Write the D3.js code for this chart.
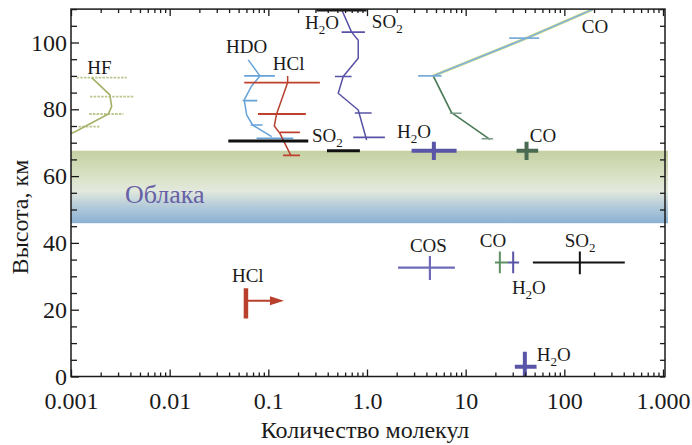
<!DOCTYPE html>
<html><head><meta charset="utf-8">
<script src="https://cdn.jsdelivr.net/npm/d3@7"></script>
<style>body{margin:0;background:#fff} svg{display:block} text{font-family:"Liberation Serif","Times New Roman",serif;fill:#1a1a1a}</style>
</head><body><svg id="c" width="692" height="445"></svg>
<script>
// ---------- data ----------
const xTickValues = [0.001, 0.01, 0.1, 1, 10, 100, 1000];
const xTickLabels = ["0.001", "0.01", "0.1", "1.0", "10", "100", "1.000"];
const yTickValues = [0, 20, 40, 60, 80, 100];
const cloudLayer = [45.9, 67.6];

const hfAlt = [89.5, 84.3, 80.8, 78.6, 73.3, 72.5];
const hfVal = [0.00162, 0.00248, 0.00258, 0.00239, 0.0011, 0.00095];
const hfErrAlt = [89.5, 83.8, 78.6, 74.8];
const hfErrLo = [0.00114, 0.00156, 0.00153, 0.00119];
const hfErrHi = [0.00367, 0.00428, 0.00339, 0.00197];

const hdoAlt = [94.8, 90.0, 87.0, 82.8, 78.3, 75.3, 71.8];
const hdoVal = [0.0625, 0.0822, 0.0677, 0.057, 0.0603, 0.0693, 0.108];
const hdoErrAlt = [90.0, 82.6, 75.3, 71.3];
const hdoErrLo = [0.057, 0.055, 0.0662, 0.076];
const hdoErrHi = [0.1166, 0.0772, 0.0875, 0.179];

const hclAlt = [90, 88, 78.5, 75, 72.8, 66.2];
const hclVal = [0.157, 0.157, 0.121, 0.115, 0.131, 0.169];
const hclErrAlt = [88.0, 78.6, 73.1, 66.2];
const hclErrLo = [0.057, 0.0785, 0.131, 0.141];
const hclErrHi = [0.333, 0.240, 0.209, 0.209];

const so2h2oAlt = [109.9, 103.1, 100.7, 95.3, 89.8, 84.8, 79.8, 70.8];
const so2h2oVal = [0.553, 0.698, 0.815, 0.815, 0.574, 0.511, 0.815, 0.991];
const so2h2oErrAlt = [103.1, 89.8, 78.9, 71.6];
const so2h2oErrLo = [0.553, 0.473, 0.753, 0.725];
const so2h2oErrHi = [0.953, 0.698, 1.114, 1.518];

const coAlt = [109.9, 101.3, 90.0, 79.0, 71.0];
const coVal = [194, 41.4, 4.69, 7.19, 17.6];
const coErrAlt = [101.3, 90.0, 78.8, 71.2];
const coErrLo = [27.6, 3.30, 6.92, 14.5];
const coErrHi = [55.6, 5.70, 9.08, 19.0];

// single measurements
const pointNames = ["SO2top", "SO2a", "SO2b", "H2Oc", "COc", "COS", "COl", "H2Ol", "SO2l", "H2Ob"];
const pointAlt   = [109.7, 70.5, 67.6, 67.6, 67.6, 32.6, 34.1, 34.1, 34.1, 2.9];
const pointVal   = [0.55, 0.1, 0.58, 4.76, 41.4, 4.34, 22.2, 30.3, 143.6, 39.8];
const pointLo    = [0.308, 0.0393, 0.393, 2.83, 32.8, 2.06, 19.8, 26.8, 48, 31.5];
const pointHi    = [0.991, 0.254, 0.847, 8.09, 54.3, 7.78, 26.8, 34.8, 410, 52.3];
const pointAltLo = [null, null, null, 64.8, 64.8, 28.9, 30.9, 30.9, 30.6, 0];
const pointAltHi = [null, null, null, 70.3, 70.3, 36.1, 37.4, 37.4, 37.4, 7.4];

// HCl lower limit (arrow)
const hclLimitAlt = 22.7, hclLimitVal = 0.0593, hclLimitTo = 0.144;
const hclLimitAltRange = [17.4, 26.4];

// labels (text, value, altitude)
const labelTexts = ["HF", "HDO", "HCl", "H_2O", "SO_2", "CO", "SO_2", "H_2O", "CO", "COS", "CO", "SO_2", "H_2O", "H_2O", "HCl"];
const labelVals  = [0.00146, 0.0372, 0.111, 0.235, 1.12, 150, 0.277, 2.01, 44.7, 2.72, 13.9, 101, 29.4, 52.6, 0.0428];
const labelAlts  = [90.6, 96.8, 91.8, 104.0, 104.3, 102.8, 70.1, 71.4, 70.1, 37.3, 38.9, 38.8, 24.7, 4.6, 28.3];
const cloudLabel = "Облака", cloudLabelVal = 0.00352, cloudLabelAlt = 51.9;
const xTitle = "Количество молекул", yTitle = "Высота, км";

// ---------- drawing ----------
const svg = d3.select("#c");
const x = d3.scaleLog().domain([0.001, 1000]).range([71, 663]);
const y = d3.scaleLinear().domain([0, 110]).range([376.5, 9.1]);
const L = 71, R = 665, T = y(110), B = y(0);

const defs = svg.append("defs");
defs.append("clipPath").attr("id", "clip").append("rect")
  .attr("x", L).attr("y", T).attr("width", R - L).attr("height", B - T);
const grad = defs.append("linearGradient").attr("id", "cloud").attr("x1", 0).attr("x2", 0).attr("y1", 0).attr("y2", 1);
[[0, "#c4d0a2"], [0.3, "#d7dfc0"], [0.55, "#e3e9dc"], [0.78, "#b1c9da"], [1, "#8cb1d3"]]
  .forEach(([o, c]) => grad.append("stop").attr("offset", o).attr("stop-color", c));

svg.append("rect").attr("x", L).attr("width", R - L + 3)
  .attr("y", y(cloudLayer[1])).attr("height", y(cloudLayer[0]) - y(cloudLayer[1]))
  .attr("fill", "url(#cloud)");
svg.append("text").attr("x", x(cloudLabelVal)).attr("y", y(cloudLabelAlt))
  .style("font-size", "26px").style("fill", "#6660a6").text(cloudLabel);

const g = svg.append("g").attr("clip-path", "url(#clip)");
const line = d3.line().x(d => x(d[0])).y(d => y(d[1]));

function profile(vals, alts, color, w, dash) {
  g.append("path").attr("d", line(vals.map((v, i) => [v, alts[i]])))
    .attr("fill", "none").attr("stroke", color).attr("stroke-width", w)
    .attr("stroke-dasharray", dash || null).attr("stroke-linejoin", "round");
}
function errs(alts, lo, hi, color, w, dash) {
  alts.forEach((a, i) => {
    g.append("line").attr("x1", x(lo[i])).attr("x2", x(hi[i])).attr("y1", y(a)).attr("y2", y(a))
      .attr("stroke", color).attr("stroke-width", w).attr("stroke-dasharray", dash || null);
  });
}

// HF
errs(hfErrAlt, hfErrLo, hfErrHi, "#b9c88e", 1.8, "2.5,1.2");
profile(hfVal, hfAlt, "#a6b26c", 1.7);
// HDO
errs(hdoErrAlt, hdoErrLo, hdoErrHi, "#64a2d8", 1.6);
profile(hdoVal, hdoAlt, "#64a2d8", 1.5);
// HCl
profile(hclVal, hclAlt, "#b5402f", 1.5);
errs(hclErrAlt, hclErrLo, hclErrHi, "#c0402e", 1.8);
// SO2/H2O upper
errs(so2h2oErrAlt, so2h2oErrLo, so2h2oErrHi, "#5852a6", 1.6);
profile(so2h2oVal, so2h2oAlt, "#5852a6", 1.5);
// CO upper: blue part above 90 km, green below
const coUpV = coVal.slice(0, 3), coUpA = coAlt.slice(0, 3);
const coLoV = coVal.slice(2), coLoA = coAlt.slice(2);
profile(coUpV, coUpA, "#d3dc90", 3);
profile(coUpV, coUpA, "#7aaedc", 1.5);
profile(coLoV, coLoA, "#4e7c58", 1.7);
errs(coErrAlt.slice(0, 2), coErrLo.slice(0, 2), coErrHi.slice(0, 2), "#7aaed8", 1.8);
errs(coErrAlt.slice(2), coErrLo.slice(2), coErrHi.slice(2), "#7a9c88", 1.6);

// single points
const pStyle = {
  SO2top: ["#1a1a1a", 3, 0], SO2a: ["#111", 3, 0], SO2b: ["#111", 3, 0],
  H2Oc: ["#5b55a8", 4, 4], COc: ["#4a6a52", 4, 4], COS: ["#6e6cb8", 2.4, 2.2],
  COl: ["#5d8f62", 2, 2], H2Ol: ["#5b55a8", 2, 2], SO2l: ["#111", 2, 2], H2Ob: ["#5b55a8", 4, 4]
};
pointNames.forEach((n, i) => {
  const [c, wh, wv] = pStyle[n];
  g.append("line").attr("x1", x(pointLo[i])).attr("x2", x(pointHi[i]))
    .attr("y1", y(pointAlt[i])).attr("y2", y(pointAlt[i])).attr("stroke", c).attr("stroke-width", wh);
  if (pointAltLo[i] !== null) {
    g.append("line").attr("x1", x(pointVal[i])).attr("x2", x(pointVal[i]))
      .attr("y1", y(pointAltLo[i])).attr("y2", y(pointAltHi[i])).attr("stroke", c).attr("stroke-width", wv);
  }
});
// HCl limit
const hc = "#b8402c";
g.append("line").attr("x1", x(hclLimitVal)).attr("x2", x(hclLimitVal))
  .attr("y1", y(hclLimitAltRange[0])).attr("y2", y(hclLimitAltRange[1])).attr("stroke", hc).attr("stroke-width", 4.5);
const tipX = x(hclLimitTo), ay = y(hclLimitAlt);
g.append("line").attr("x1", x(hclLimitVal)).attr("x2", tipX - 10).attr("y1", ay).attr("y2", ay)
  .attr("stroke", hc).attr("stroke-width", 2);
g.append("path").attr("d", `M${tipX},${ay} L${tipX - 14},${ay - 4.5} L${tipX - 14},${ay + 4.5} Z`).attr("fill", hc);

// labels
labelTexts.forEach((t, i) => {
  const txt = svg.append("text").attr("x", x(labelVals[i])).attr("y", y(labelAlts[i])).style("font-size", "19px");
  const parts = t.split("_");
  txt.append("tspan").text(parts[0]);
  if (parts.length > 1) {
    txt.append("tspan").attr("dy", 5).style("font-size", "13px").text(parts[1][0]);
    if (parts[1].length > 1) txt.append("tspan").attr("dy", -5).text(parts[1].slice(1));
  }
});

// axes
const minorX = x.ticks().filter(v => !xTickValues.some(m => Math.abs(Math.log10(v / m)) < 1e-6));
const minorY = d3.range(0, 111, 5).filter(v => !yTickValues.includes(v));
const ax = svg.append("g").attr("class", "axes");
function styleAxis(sel) { sel.select(".domain").remove(); sel.selectAll("line").attr("stroke", "#1a1a1a").attr("stroke-width", 1.3); }

ax.append("g").attr("transform", `translate(0,${B})`)
  .call(d3.axisBottom(x).tickValues(xTickValues).tickSize(-7).tickPadding(15).tickFormat((d, i) => xTickLabels[i]))
  .call(styleAxis).selectAll("text").style("font-size", "24px").style("font-family", "Liberation Serif").attr("fill", "#1a1a1a");
ax.append("g").attr("transform", `translate(0,${B})`)
  .call(d3.axisBottom(x).tickValues(minorX).tickSize(-4).tickFormat("")).call(styleAxis);
ax.append("g").attr("transform", `translate(0,${T})`)
  .call(d3.axisTop(x).tickValues(xTickValues).tickSize(-7).tickFormat("")).call(styleAxis);
ax.append("g").attr("transform", `translate(0,${T})`)
  .call(d3.axisTop(x).tickValues(minorX).tickSize(-4).tickFormat("")).call(styleAxis);

ax.append("g").attr("transform", `translate(${L},0)`)
  .call(d3.axisLeft(y).tickValues(yTickValues).tickSize(-8).tickPadding(4))
  .call(styleAxis).selectAll("text").style("font-size", "24px").style("font-family", "Liberation Serif").attr("fill", "#1a1a1a");
ax.append("g").attr("transform", `translate(${L},0)`)
  .call(d3.axisLeft(y).tickValues(minorY).tickSize(-6).tickFormat("")).call(styleAxis);
ax.append("g").attr("transform", `translate(${R},0)`)
  .call(d3.axisRight(y).tickValues(d3.range(0, 111, 5)).tickSize(-5).tickFormat("")).call(styleAxis);

svg.append("rect").attr("x", L).attr("y", T).attr("width", R - L).attr("height", B - T)
  .attr("fill", "none").attr("stroke", "#1a1a1a").attr("stroke-width", 1.5);

svg.append("text").attr("x", (L + R) / 2 - 3).attr("y", 438).attr("text-anchor", "middle")
  .style("font-size", "24px").text(xTitle);
svg.append("text").attr("transform", `translate(28,217) rotate(-90)`).attr("text-anchor", "middle")
  .style("font-size", "24px").text(yTitle);
</script></body></html>
